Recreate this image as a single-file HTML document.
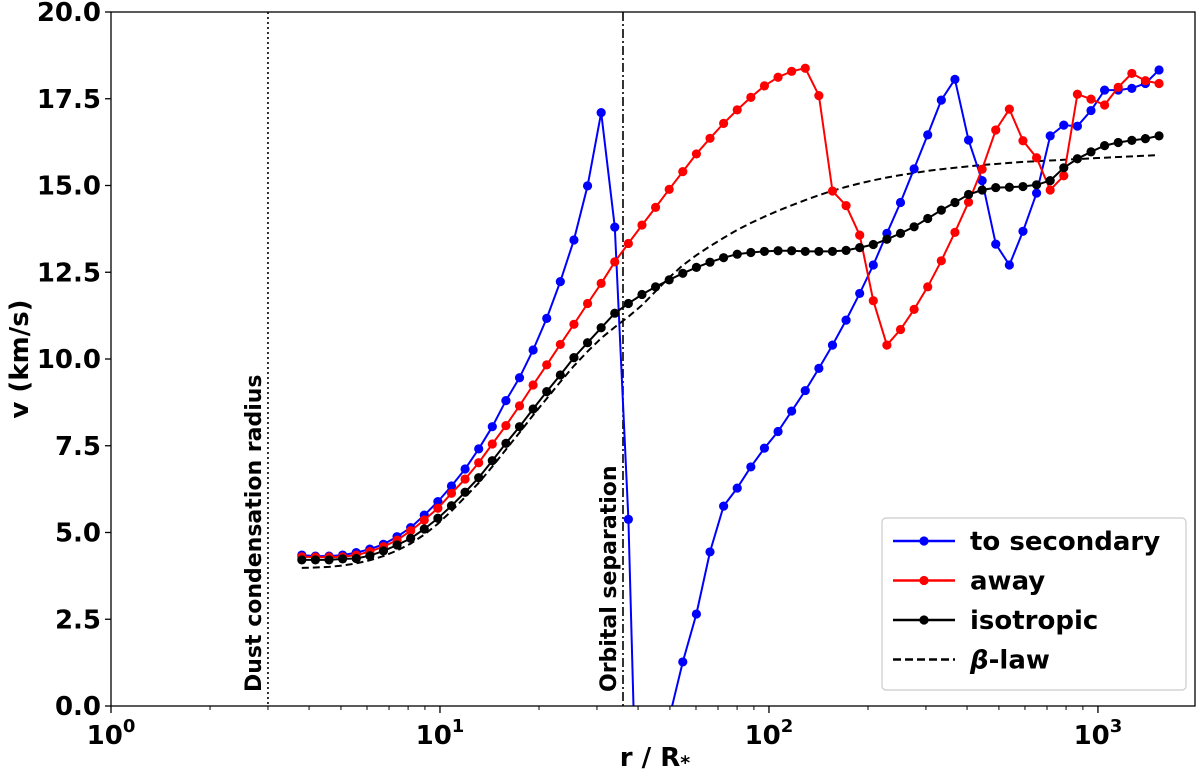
<!DOCTYPE html>
<html><head><meta charset="utf-8"><style>
html,body{margin:0;padding:0;background:#fff;overflow:hidden;width:1200px;height:776px;}
svg{display:block;}
svg text{font-family:"DejaVu Sans","Liberation Sans",sans-serif;font-weight:bold;}
</style></head><body>
<svg id="chart" width="1200" height="776" xmlns="http://www.w3.org/2000/svg"></svg>
<script>
const logR0 = 0.580;
const logRStep = 0.04136;
const vSecondary = [4.35,4.32,4.32,4.35,4.42,4.52,4.66,4.88,5.14,5.50,5.89,6.34,6.83,7.41,8.05,8.80,9.46,10.26,11.17,12.23,13.43,14.99,17.10,13.80,5.38,-9,-5,-0.35,1.27,2.65,4.44,5.76,6.28,6.89,7.43,7.91,8.50,9.09,9.73,10.40,11.12,11.89,12.71,13.62,14.51,15.48,16.46,17.46,18.06,16.31,15.14,13.31,12.71,13.68,14.78,16.43,16.74,16.71,17.16,17.75,17.75,17.80,17.94,18.33];
const vAway = [4.30,4.29,4.29,4.30,4.35,4.45,4.59,4.78,5.05,5.36,5.70,6.13,6.54,7.01,7.55,8.08,8.65,9.25,9.83,10.42,11.00,11.60,12.18,12.80,13.33,13.86,14.37,14.89,15.40,15.91,16.36,16.79,17.18,17.54,17.87,18.12,18.29,18.38,17.59,14.84,14.42,13.57,11.68,10.40,10.85,11.43,12.08,12.83,13.65,14.52,15.47,16.60,17.20,16.29,15.80,14.87,15.28,17.63,17.49,17.32,17.83,18.23,18.02,17.94];
const vIso = [4.21,4.21,4.21,4.24,4.25,4.33,4.47,4.64,4.83,5.10,5.41,5.77,6.16,6.58,7.07,7.57,8.05,8.56,9.06,9.54,10.04,10.47,10.90,11.32,11.60,11.86,12.08,12.28,12.47,12.64,12.79,12.92,13.02,13.07,13.10,13.12,13.12,13.10,13.10,13.10,13.13,13.21,13.30,13.45,13.62,13.81,14.05,14.29,14.51,14.74,14.87,14.94,14.95,14.97,15.02,15.14,15.51,15.77,15.97,16.15,16.24,16.30,16.35,16.43];
const vBeta = [3.98,3.99,4.01,4.05,4.11,4.20,4.32,4.48,4.68,4.94,5.25,5.62,6.02,6.43,6.90,7.39,7.88,8.38,8.86,9.34,9.80,10.22,10.60,10.92,11.22,11.55,11.95,12.35,12.70,12.99,13.25,13.49,13.72,13.92,14.10,14.27,14.43,14.58,14.72,14.85,14.96,15.06,15.15,15.23,15.30,15.36,15.42,15.47,15.51,15.55,15.59,15.62,15.65,15.68,15.70,15.72,15.74,15.76,15.78,15.80,15.82,15.84,15.86,15.88];
const yTicks = [0,2.5,5,7.5,10,12.5,15,17.5,20];
const xDecades = [0,1,2,3];
const dustR = 3.0;
const orbitR = 36;

const L=111,R=1195,T=12,B=706;
const xMax=3.295;
function xs(lr){return L+(lr)/xMax*(R-L);}
function ys(v){return B-(v/20)*(B-T);}
const NS="http://www.w3.org/2000/svg";
const svg=document.getElementById('chart');
function el(tag,attrs,parent){const e=document.createElementNS(NS,tag);for(const k in attrs)e.setAttribute(k,attrs[k]);(parent||svg).appendChild(e);return e;}

const defs=el('defs',{});
const cp=el('clipPath',{id:'plotclip'},defs);
el('rect',{x:L,y:T,width:R-L,height:B-T},cp);

const dust=el('line',{x1:xs(Math.log10(dustR)),x2:xs(Math.log10(dustR)),y1:T,y2:B,stroke:'#000','stroke-width':1.6,'stroke-dasharray':'2,3'});


const orb=el('line',{x1:xs(Math.log10(orbitR)),x2:xs(Math.log10(orbitR)),y1:T,y2:B,stroke:'#000','stroke-width':1.6,'stroke-dasharray':'9,3,2,3'});


const t1=el('text',{transform:`translate(${xs(Math.log10(dustR))-7},692) rotate(-90)`,'font-size':22,fill:'#000'});
t1.textContent='Dust condensation radius';


const t2=el('text',{transform:`translate(${xs(Math.log10(orbitR))-7},692) rotate(-90)`,'font-size':22,fill:'#000'});
t2.textContent='Orbital separation';



function series(vals,color,name,dash,markers){
  const g=el('g',{'clip-path':'url(#plotclip)'});
  
  
  const pts=vals.map((v,i)=>xs(logR0+i*logRStep).toFixed(1)+','+ys(v).toFixed(1)).join(' ');
  const pl=el('polyline',{points:pts,fill:'none',stroke:color,'stroke-width':2,'stroke-dasharray':dash||'none'},g);
  
  
  if(markers){vals.forEach((v,i)=>{
    const c=el('circle',{cx:xs(logR0+i*logRStep),cy:ys(v),r:4.6,fill:color},g);
    
    
  });}
}
series(vBeta,'#000','beta-law-series','7,4',false);
series(vSecondary,'#0000ff','to-secondary-series',null,true);
series(vAway,'#ff0000','away-series',null,true);
series(vIso,'#000','isotropic-series',null,true);

const frame=el('rect',{x:L,y:T,width:R-L,height:B-T,fill:'none',stroke:'#000','stroke-width':1.3});



yTicks.forEach(v=>{
  const y=ys(v);
  const tk=el('line',{x1:L-6,x2:L,y1:y,y2:y,stroke:'#000','stroke-width':1.3});
  
  
  const tx=el('text',{x:L-10,y:y+9,'text-anchor':'end','font-size':26,fill:'#000'});
  tx.textContent=v.toFixed(1);
  
  
});
xDecades.forEach(d=>{
  const x=xs(d);
  const tk=el('line',{x1:x,x2:x,y1:B,y2:B+7,stroke:'#000','stroke-width':1.3});
  
  
  const tx=el('text',{x:x,y:B+38,'text-anchor':'middle','font-size':26,fill:'#000'});
  tx.textContent='10';
  const sp=el('tspan',{dy:-12,'font-size':18},tx);
  sp.textContent=String(d);
  
  
  for(let m=2;m<=9;m++){
    const lx=xs(d+Math.log10(m));
    if(lx<=R){const mt=el('line',{x1:lx,x2:lx,y1:B,y2:B+4,stroke:'#000','stroke-width':1});
      
      }
  }
});
const xl=el('text',{x:655,y:766,'text-anchor':'middle','font-size':26,fill:'#000'});
xl.textContent='r / R';
const xsub=el('tspan',{'font-size':19,dy:3},xl);xsub.textContent='*';


const yl=el('text',{transform:'translate(28,359) rotate(-90)','text-anchor':'middle','font-size':26,fill:'#000'});
yl.textContent='v (km/s)';



const lg=el('g',{});


el('rect',{x:882,y:518,width:304,height:172,rx:4,fill:'#fff',stroke:'#ccc','stroke-width':1.2},lg);
const legNames=['to secondary','away','isotropic','β-law'];
const legColors=['#0000ff','#ff0000','#000','#000'];
legNames.forEach((n,i)=>{
  const y=541+i*39.5;
  const e=el('g',{},lg);
  
  
  el('line',{x1:893,x2:955,y1:y,y2:y,stroke:legColors[i],'stroke-width':2.4,'stroke-dasharray':i==3?'8,4':'none'},e);
  if(i<3)el('circle',{cx:924,cy:y,r:4.6,fill:legColors[i]},e);
  const t=el('text',{x:970,y:y+9,'font-size':26,fill:'#000'},e);
  if(i==3){const b=el('tspan',{'font-style':'italic'},t);b.textContent='β';const r2=el('tspan',{},t);r2.textContent='-law';}
  else t.textContent=n;
});
</script>
</body></html>
